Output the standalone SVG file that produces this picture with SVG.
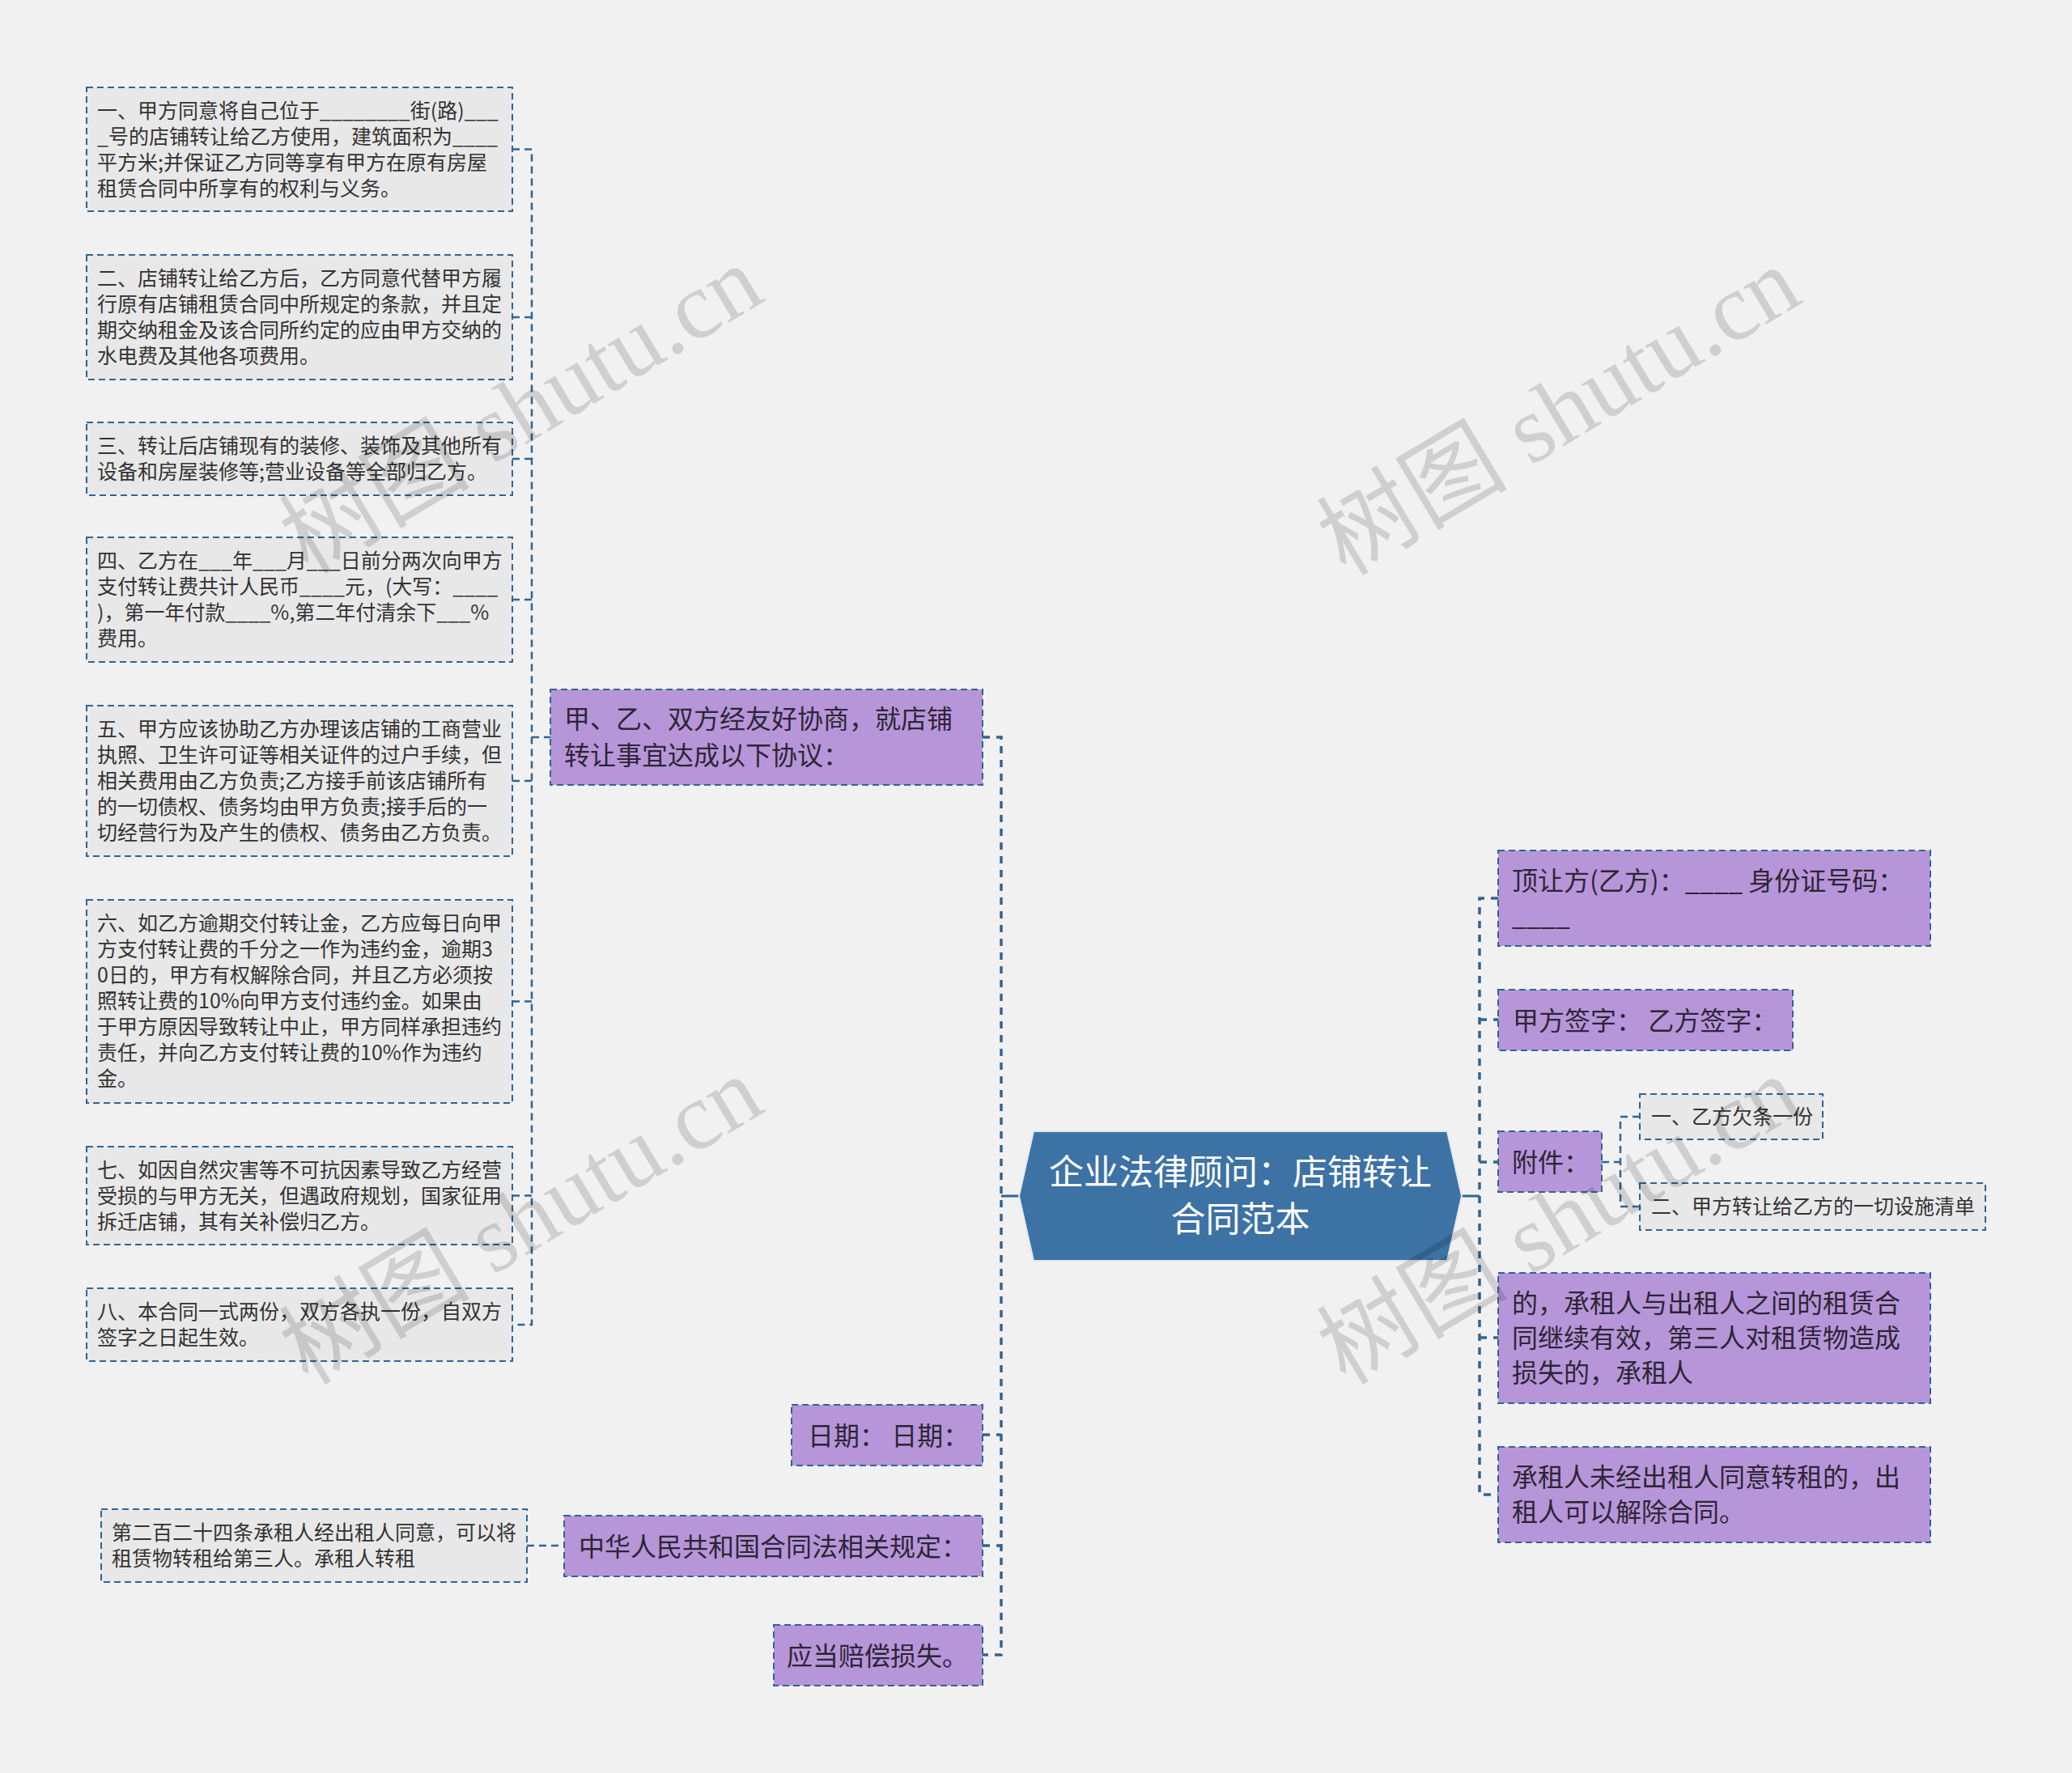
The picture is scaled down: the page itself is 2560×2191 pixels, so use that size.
<svg xmlns="http://www.w3.org/2000/svg" width="2560" height="2191" viewBox="0 0 2560 2191">
<style>
.bg{fill:#f1f1f1}
.leaf{fill:#e8e8e8;stroke:#2f6593;stroke-width:2;stroke-dasharray:8 5}
.pur{fill:#b696d9;stroke:#2f6593;stroke-width:2;stroke-dasharray:8 5}
.ctr{fill:#3d72a4;stroke:#dfe7ef;stroke-width:2}
.t25{font-family:"Noto Sans CJK SC","Microsoft YaHei",sans-serif;font-size:25px;fill:#333}
.t32{font-family:"Noto Sans CJK SC","Microsoft YaHei",sans-serif;font-size:32px;fill:#2e2535}
.t43{font-family:"Noto Sans CJK SC","Microsoft YaHei",sans-serif;font-size:43px;fill:#ffffff}
.c1{fill:none;stroke:#2f6593;stroke-width:3.5;stroke-dasharray:9 8}
.c2{fill:none;stroke:#2f6593;stroke-width:2.5;stroke-dasharray:9 6}
.cs{fill:none;stroke:#2f6593;stroke-width:3}
.wm{font-family:"Liberation Serif","Noto Sans CJK SC",serif;font-size:118px;fill:#000;fill-opacity:0.14}
</style>
<rect class="bg" x="0" y="0" width="2560" height="2191"/>

<g id="connectors">
<path class="c2" d="M633,184.5 H657 V1637 H633"/>
<path class="c2" d="M633,392 H657 M633,567 H657 M633,741 H657 M633,965 H657 M633,1237.5 H657 M633,1477.5 H657 M657,911 H680"/>
<path class="c1" d="M1214,911 H1237 V2045 H1214"/>
<path class="c1" d="M1214,1773 H1237 M1214,1910 H1237"/>
<path class="cs" d="M1237,1478 H1259"/>
<path class="c2" d="M651,1910 H697"/>
<path class="c1" d="M1851,1110 H1828 V1847 H1851"/>
<path class="c1" d="M1828,1260 H1851 M1828,1436 H1851 M1828,1653 H1851"/>
<path class="cs" d="M1806,1478 H1828"/>
<path class="c2" d="M1979,1436 H2002 M2026,1380 H2002 V1491 H2026"/>
</g>

<g id="center">
<polygon class="ctr" points="1259,1478 1277,1398 1788,1398 1806,1478 1788,1558 1277,1558"/>
<text class="t43" x="1532.5" y="1463.5" text-anchor="middle">企业法律顾问：店铺转让</text>
<text class="t43" x="1532.5" y="1521.5" text-anchor="middle">合同范本</text>
</g>

<g id="n-agree">
<rect class="pur" x="680" y="852" width="534" height="118"/>
<text class="t32" x="697" y="900">甲、乙、双方经友好协商，就店铺</text>
<text class="t32" x="697" y="945">转让事宜达成以下协议：</text>
</g>

<g id="l1">
<rect class="leaf" x="107" y="108" width="526" height="153"/>
<text class="t25" x="120" y="146">一、甲方同意将自己位于________街(路)___</text>
<text class="t25" x="120" y="178">_号的店铺转让给乙方使用，建筑面积为____</text>
<text class="t25" x="120" y="210">平方米;并保证乙方同等享有甲方在原有房屋</text>
<text class="t25" x="120" y="242">租赁合同中所享有的权利与义务。</text>
</g>
<g id="l2">
<rect class="leaf" x="107" y="315" width="526" height="154"/>
<text class="t25" x="120" y="353">二、店铺转让给乙方后，乙方同意代替甲方履</text>
<text class="t25" x="120" y="385">行原有店铺租赁合同中所规定的条款，并且定</text>
<text class="t25" x="120" y="417">期交纳租金及该合同所约定的应由甲方交纳的</text>
<text class="t25" x="120" y="449">水电费及其他各项费用。</text>
</g>
<g id="l3">
<rect class="leaf" x="107" y="522" width="526" height="90"/>
<text class="t25" x="120" y="560">三、转让后店铺现有的装修、装饰及其他所有</text>
<text class="t25" x="120" y="592">设备和房屋装修等;营业设备等全部归乙方。</text>
</g>
<g id="l4">
<rect class="leaf" x="107" y="664" width="526" height="154"/>
<text class="t25" x="120" y="702">四、乙方在___年___月___日前分两次向甲方</text>
<text class="t25" x="120" y="734">支付转让费共计人民币____元，(大写：____</text>
<text class="t25" x="120" y="766">)，第一年付款____%,第二年付清余下___%</text>
<text class="t25" x="120" y="798">费用。</text>
</g>
<g id="l5">
<rect class="leaf" x="107" y="872" width="526" height="186"/>
<text class="t25" x="120" y="910">五、甲方应该协助乙方办理该店铺的工商营业</text>
<text class="t25" x="120" y="942">执照、卫生许可证等相关证件的过户手续，但</text>
<text class="t25" x="120" y="974">相关费用由乙方负责;乙方接手前该店铺所有</text>
<text class="t25" x="120" y="1006">的一切债权、债务均由甲方负责;接手后的一</text>
<text class="t25" x="120" y="1038">切经营行为及产生的债权、债务由乙方负责。</text>
</g>
<g id="l6">
<rect class="leaf" x="107" y="1112" width="526" height="251"/>
<text class="t25" x="120" y="1150">六、如乙方逾期交付转让金，乙方应每日向甲</text>
<text class="t25" x="120" y="1182">方支付转让费的千分之一作为违约金，逾期3</text>
<text class="t25" x="120" y="1214">0日的，甲方有权解除合同，并且乙方必须按</text>
<text class="t25" x="120" y="1246">照转让费的10%向甲方支付违约金。如果由</text>
<text class="t25" x="120" y="1278">于甲方原因导致转让中止，甲方同样承担违约</text>
<text class="t25" x="120" y="1310">责任，并向乙方支付转让费的10%作为违约</text>
<text class="t25" x="120" y="1342">金。</text>
</g>
<g id="l7">
<rect class="leaf" x="107" y="1417" width="526" height="121"/>
<text class="t25" x="120" y="1455">七、如因自然灾害等不可抗因素导致乙方经营</text>
<text class="t25" x="120" y="1487">受损的与甲方无关，但遇政府规划，国家征用</text>
<text class="t25" x="120" y="1519">拆迁店铺，其有关补偿归乙方。</text>
</g>
<g id="l8">
<rect class="leaf" x="107" y="1592" width="526" height="90"/>
<text class="t25" x="120" y="1630">八、本合同一式两份，双方各执一份，自双方</text>
<text class="t25" x="120" y="1662">签字之日起生效。</text>
</g>

<g id="n-date">
<rect class="pur" x="978" y="1736" width="236" height="75"/>
<text class="t32" x="998" y="1786">日期： 日期：</text>
</g>
<g id="n-law">
<rect class="pur" x="697" y="1873" width="517" height="75"/>
<text class="t32" x="715" y="1923">中华人民共和国合同法相关规定：</text>
</g>
<g id="n-law-224">
<rect class="leaf" x="125" y="1865" width="526" height="90"/>
<text class="t25" x="138" y="1903">第二百二十四条承租人经出租人同意，可以将</text>
<text class="t25" x="138" y="1935">租赁物转租给第三人。承租人转租</text>
</g>
<g id="n-loss">
<rect class="pur" x="956" y="2008" width="258" height="75"/>
<text class="t32" x="972" y="2058">应当赔偿损失。</text>
</g>

<g id="n-party">
<rect class="pur" x="1851" y="1051" width="534" height="118"/>
<text class="t32" x="1868" y="1100">顶让方(乙方)：____ 身份证号码：</text>
<text class="t32" x="1868" y="1143">____</text>
</g>
<g id="n-sign">
<rect class="pur" x="1851" y="1223" width="364" height="75"/>
<text class="t32" x="1869" y="1273">甲方签字： 乙方签字：</text>
</g>
<g id="n-attach">
<rect class="pur" x="1851" y="1398" width="128" height="75"/>
<text class="t32" x="1868" y="1448">附件：</text>
</g>
<g id="n-attach-1">
<rect class="leaf" x="2026" y="1352" width="226" height="56"/>
<text class="t25" x="2040" y="1389">一、乙方欠条一份</text>
</g>
<g id="n-attach-2">
<rect class="leaf" x="2026" y="1462" width="427" height="58"/>
<text class="t25" x="2040" y="1500">二、甲方转让给乙方的一切设施清单</text>
</g>
<g id="n-lease">
<rect class="pur" x="1851" y="1573" width="534" height="161"/>
<text class="t32" x="1868" y="1622">的，承租人与出租人之间的租赁合</text>
<text class="t32" x="1868" y="1665">同继续有效，第三人对租赁物造成</text>
<text class="t32" x="1868" y="1708">损失的，承租人</text>
</g>
<g id="n-sublet">
<rect class="pur" x="1851" y="1788" width="534" height="118"/>
<text class="t32" x="1868" y="1837">承租人未经出租人同意转租的，出</text>
<text class="t32" x="1868" y="1880">租人可以解除合同。</text>
</g>

<g id="watermarks">
<text class="wm" transform="translate(645,508) rotate(-31)" x="0" y="38" text-anchor="middle">树图 shutu.cn</text>
<text class="wm" transform="translate(1927,510) rotate(-31)" x="0" y="38" text-anchor="middle">树图 shutu.cn</text>
<text class="wm" transform="translate(645,1510) rotate(-31)" x="0" y="38" text-anchor="middle">树图 shutu.cn</text>
<text class="wm" transform="translate(1927,1510) rotate(-31)" x="0" y="38" text-anchor="middle">树图 shutu.cn</text>
</g>
</svg>
